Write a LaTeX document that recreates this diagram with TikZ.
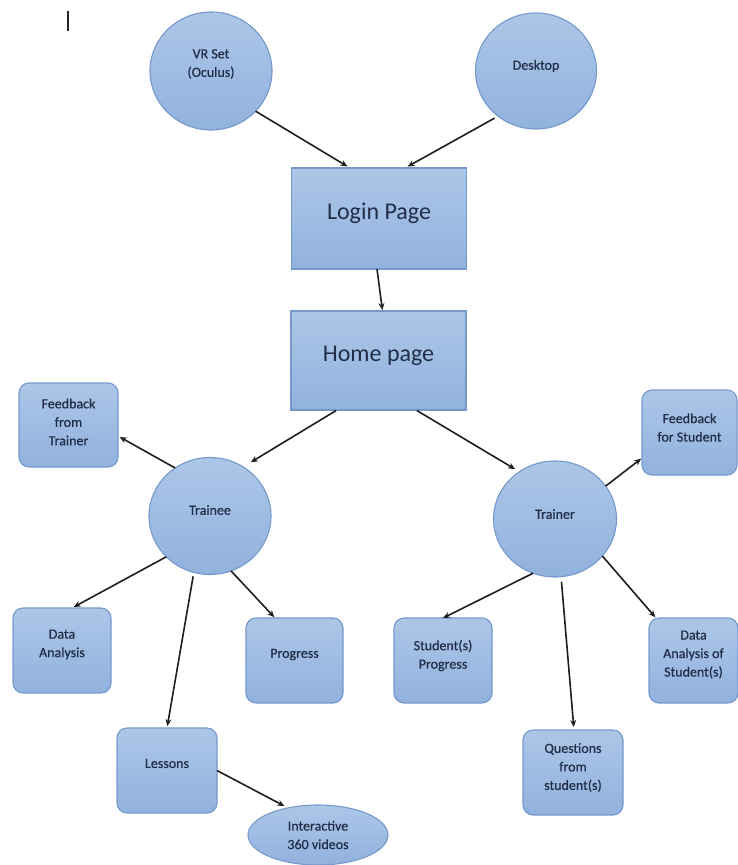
\documentclass[tikz,border=0pt]{standalone}
\usepackage{fontspec}
\setmainfont{Carlito}
\newfontfamily\medfont{Carlito}[FakeBold=0.6]
\usetikzlibrary{shapes.geometric,arrows.meta}
\definecolor{fillTop}{RGB}{172,198,231}
\definecolor{fillBot}{RGB}{145,178,222}
\definecolor{edgeBlue}{RGB}{118,153,204}
\definecolor{txtNavy}{RGB}{34,46,72}
\definecolor{arrowDark}{RGB}{30,30,30}
\tikzset{
  shapebase/.style={draw=edgeBlue, line width=1.1pt, top color=fillTop, bottom color=fillBot, inner sep=0pt, outer sep=0pt},
  bigbox/.style={shapebase, rectangle, minimum width=175pt, minimum height=100pt},
  smallbox/.style={shapebase, rectangle, rounded corners=10pt, minimum width=98pt, minimum height=85pt},
  roundnode/.style={shapebase, ellipse},
  txt/.style={text=txtNavy, align=center, font=\medfont\fontsize{14}{18.5}\selectfont, inner sep=0pt},
  bigtxt/.style={text=txtNavy, align=center, font=\fontsize{24}{28}\selectfont, inner sep=0pt},
  arr/.style={draw=arrowDark, line width=1.6pt, -{Stealth[length=7pt,width=6pt]}}
}
\begin{document}
\begin{tikzpicture}[x=1pt,y=-1pt]
\useasboundingbox (0,0) rectangle (738,865);
\clip (0,0) rectangle (738,865);
\fill[white] (0,0) rectangle (738,865);

% cursor mark
\draw[line width=1.6pt, black!85] (68,11) -- (68,31);

% top circles
\node[roundnode, minimum width=122pt, minimum height=118pt] (vr) at (211,71) {};
\node[txt] (vr-t) at ([yshift=7pt]vr.center) {VR Set\\(Oculus)};
\node[roundnode, minimum width=121pt, minimum height=116pt] (desk) at (536,71) {};
\node[txt] (desk-t) at ([yshift=5pt]desk.center) {Desktop};

% main boxes
\node[bigbox, minimum height=101pt] (login) at (379,218.5) {};
\node[bigtxt] (login-t) at ([yshift=5pt]login.center) {Login Page};
\node[bigbox, minimum height=99pt] (home) at (378.5,360.5) {};
\node[bigtxt] (home-t) at ([yshift=5pt]home.center) {Home page};

% trainee side
\node[roundnode, minimum width=122pt, minimum height=117pt] (trainee) at (210,516) {};
\node[txt] (trainee-t) at ([yshift=6pt]trainee.center) {Trainee};
\node[smallbox, minimum width=99pt, minimum height=84pt] (fbfrom) at (68.5,425) {};
\node[txt] (fbfrom-t) at ([yshift=3pt]fbfrom.center) {Feedback\\from\\Trainer};
\node[smallbox] (data) at (62,650.5) {};
\node[txt] (data-t) at ([yshift=6pt]data.center) {Data\\Analysis};
\node[smallbox, minimum width=97pt] (prog) at (294.5,660.5) {};
\node[txt] (prog-t) at ([yshift=6pt]prog.center) {Progress};
\node[smallbox, minimum width=100pt] (lessons) at (167,770.5) {};
\node[txt] (lessons-t) at ([yshift=7pt]lessons.center) {Lessons};
\node[roundnode, minimum width=140pt, minimum height=60pt] (video) at (318,835) {};
\node[txt] (video-t) at (video.center) {Interactive\\360 videos};

% trainer side
\node[roundnode, minimum width=123pt, minimum height=116pt] (trainer) at (555,519) {};
\node[txt] (trainer-t) at ([yshift=5pt]trainer.center) {Trainer};
\node[smallbox, minimum width=95pt] (fbfor) at (689.5,432.5) {};
\node[txt] (fbfor-t) at ([yshift=5pt]fbfor.center) {Feedback\\for Student};
\node[smallbox] (sprog) at (443,660.5) {};
\node[txt] (sprog-t) at ([yshift=5pt]sprog.center) {Student(s)\\Progress};
\node[smallbox, minimum width=89pt] (sdata) at (693.5,660.5) {};
\node[txt] (sdata-t) at ([yshift=6pt]sdata.center) {Data\\Analysis of\\Student(s)};
\node[smallbox, minimum width=100pt] (quest) at (573,772.5) {};
\node[txt] (quest-t) at ([yshift=5pt]quest.center) {Questions\\from\\student(s)};

% connectors
\draw[arr, shorten >=3pt] (vr.-42) -- ([xshift=-29pt]login.north);
\draw[arr, shorten <=4pt, shorten >=3pt] (desk.-130) -- ([xshift=26pt]login.north);
\draw[arr, shorten >=1pt] ([xshift=-2pt]login.south) -- ([xshift=4pt]home.north);
\draw[arr, shorten <=1pt, shorten >=9pt] ([xshift=-41.5pt]home.south) -- (trainee.56.5);
\draw[arr, shorten <=1pt, shorten >=5pt] ([xshift=37.5pt]home.south) -- (trainer.127.4);
\draw[arr, shorten >=2pt] (trainee.126.7) -- ([yshift=-11pt]fbfrom.east);
\draw[arr, shorten >=2pt] (trainee.-137.7) -- ([xshift=10pt]data.north);
\draw[arr, shorten >=1pt] (trainee.-69) -- ([xshift=-19.5pt]prog.north);
\draw[arr, shorten <=4pt, shorten >=2pt] (trainee.-106.4) -- (lessons.north);
\draw[arr, shorten >=4pt] (lessons.east) -- (video.138.6);
\draw[arr, shorten >=1pt] (trainer.33.4) -- ([yshift=-25.5pt]fbfor.west);
\draw[arr] (trainer.-112.5) -- (sprog.north);
\draw[arr, shorten >=1pt] (trainer.-38) -- ([xshift=-37.5pt]sdata.north);
\draw[arr, shorten <=5pt, shorten >=3pt] (trainer.-84.6) -- ([xshift=1pt]quest.north);
\end{tikzpicture}
\end{document}
